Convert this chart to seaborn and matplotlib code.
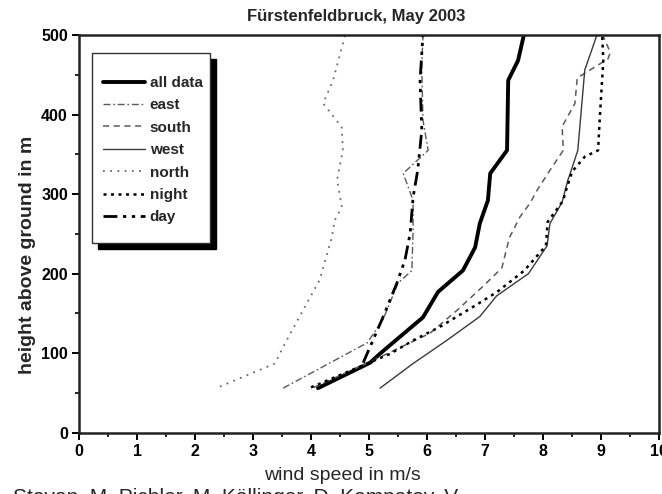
import matplotlib
matplotlib.use("Agg")
import matplotlib.pyplot as plt
import seaborn as sns
import pandas as pd
from matplotlib.patches import Rectangle
from matplotlib.lines import Line2D
from matplotlib.ticker import MultipleLocator

# ---- data ----
all_h = [56, 88, 100, 145, 177, 204, 233, 263, 292, 326, 355, 443, 468, 500]
all_v = [4.12, 5.02, 5.2, 5.93, 6.19, 6.62, 6.83, 6.91, 7.05, 7.09, 7.38, 7.40, 7.57, 7.67]

east_h = [56, 113, 142, 188, 204, 255, 292, 326, 355, 393, 460, 500]
east_v = [3.52, 4.97, 5.24, 5.5, 5.74, 5.76, 5.76, 5.59, 6.02, 5.93, 5.91, 5.93]

south_h = [57, 95, 125, 154, 183, 207, 245, 271, 289, 305, 330, 355, 385, 414, 446, 470, 478, 500]
south_v = [4.05, 5.19, 6.05, 6.52, 6.95, 7.29, 7.42, 7.6, 7.78, 7.9, 8.12, 8.35, 8.33, 8.55, 8.59, 9.12, 9.16, 9.03]

west_h = [56, 87, 116, 146, 172, 200, 235, 263, 290, 318, 326, 355, 456, 500]
west_v = [5.19, 5.76, 6.34, 6.91, 7.2, 7.75, 8.07, 8.12, 8.33, 8.43, 8.47, 8.6, 8.72, 8.93]

north_h = [58, 87, 108, 163, 192, 246, 267, 284, 318, 355, 384, 414, 443, 500]
north_v = [2.43, 3.38, 3.52, 3.93, 4.15, 4.36, 4.41, 4.53, 4.45, 4.55, 4.53, 4.21, 4.38, 4.59]

night_h = [57, 99, 116, 133, 158, 177, 204, 235, 265, 292, 301, 328, 347, 355, 397, 468, 500]
night_v = [4.0, 5.36, 5.76, 6.22, 6.79, 7.21, 7.68, 8.05, 8.08, 8.35, 8.38, 8.5, 8.72, 8.95, 8.98, 9.04, 9.02]

day_h = [88, 145, 188, 217, 251, 296, 330, 380, 443, 500]
day_v = [4.9, 5.24, 5.48, 5.62, 5.71, 5.76, 5.84, 5.91, 5.88, 5.93]

series_names = ["all data", "east", "south", "west", "north", "night", "day"]
series_data = {
    "all data": (all_v, all_h),
    "east": (east_v, east_h),
    "south": (south_v, south_h),
    "west": (west_v, west_h),
    "north": (north_v, north_h),
    "night": (night_v, night_h),
    "day": (day_v, day_h),
}

x_ticks = [0, 1, 2, 3, 4, 5, 6, 7, 8, 9, 10]
y_ticks = [0, 100, 200, 300, 400, 500]

title_text = "Fürstenfeldbruck, May 2003"
x_label = "wind speed in m/s"
y_label = "height above ground in m"
footer_text = "Stoyan, M. Pichler, M. Köllinger, D. Kompatov, V"

# ---- styles ----
styles = {
    "all data": dict(color="black", lw=2.8, ls="-"),
    "east": dict(color="#5a5a5a", lw=1.0, ls=(0, (5, 2, 1.2, 2))),
    "south": dict(color="#5a5a5a", lw=1.1, ls=(0, (4, 3))),
    "west": dict(color="#3a3a3a", lw=1.0, ls="-"),
    "north": dict(color="#6a6a6a", lw=1.3, ls=(0, (1, 3))),
    "night": dict(color="black", lw=1.8, ls=(0, (1.2, 1.8))),
    "day": dict(color="black", lw=2.0, ls=(0, (5, 2, 1.2, 2, 1.2, 2))),
}

sns.set_theme(style="ticks")
plt.rcParams["font.family"] = ["Liberation Sans", "DejaVu Sans"]

fig = plt.figure(figsize=(6.62, 4.94), dpi=100)
W, H = 662, 494
ax_l, ax_r, ax_t, ax_b = 79, 659, 35, 432.7
ax = fig.add_axes([ax_l / W, 1 - ax_b / H, (ax_r - ax_l) / W, (ax_b - ax_t) / H])

for name in series_names:
    v, h = series_data[name]
    df = pd.DataFrame({"speed": v, "height": h})
    st = styles[name]
    sns.lineplot(data=df, x="speed", y="height", sort=False, estimator=None,
                 ax=ax, color=st["color"], lw=st["lw"], linestyle=st["ls"], legend=False)

ax.set_xlim(0, 10)
ax.set_ylim(0, 500)
ax.set_xticks(x_ticks)
ax.set_yticks(y_ticks)
ax.xaxis.set_minor_locator(MultipleLocator(0.5))
ax.yaxis.set_minor_locator(MultipleLocator(50))
ax.tick_params(which="major", direction="out", length=5, width=1.4, colors="black",
               labelsize=11.5, pad=3)
ax.tick_params(which="minor", direction="out", length=3, width=1.2, colors="black")
for lab in ax.get_xticklabels() + ax.get_yticklabels():
    lab.set_fontweight("bold")
for sp in ax.spines.values():
    sp.set_visible(True)
    sp.set_linewidth(1.8)
    sp.set_color("#222222")

ax.set_xlabel(x_label, fontsize=14)
ax.set_ylabel(y_label, fontsize=14, fontweight="bold")
ax.xaxis.set_label_coords((342 - ax_l) / (ax_r - ax_l), (ax_b - 467) / (ax_b - ax_t))
ax.yaxis.set_label_coords((36 - ax_l) / (ax_r - ax_l), (ax_b - 255) / (ax_b - ax_t))

fig.text(356 / W, 1 - 17 / H, title_text, ha="center", va="center",
         fontsize=12, fontweight="bold")

# legend box with shadow (axes coordinates)
def ax_xy(px, py):
    return (px - ax_l) / (ax_r - ax_l), (ax_b - py) / (ax_b - ax_t)

bx0, by0 = ax_xy(92, 243)
bx1, by1 = ax_xy(210, 53)
sx0, sy0 = ax_xy(98, 249)
ax.add_patch(Rectangle((sx0, sy0), bx1 - bx0, by1 - by0, transform=ax.transAxes,
                       facecolor="black", edgecolor="black", zorder=5))
ax.add_patch(Rectangle((bx0, by0), bx1 - bx0, by1 - by0, transform=ax.transAxes,
                       facecolor="white", edgecolor="#333333", lw=1.0, zorder=6))

handles = [Line2D([0], [0], color=styles[n]["color"], lw=styles[n]["lw"],
                  linestyle=styles[n]["ls"]) for n in series_names]
lx, ly = ax_xy(103, 76)
leg = ax.legend(handles, series_names, loc="upper left", bbox_to_anchor=(lx, ly),
                frameon=False, handlelength=2.75, handletextpad=0.3,
                labelspacing=0.55, borderpad=0, borderaxespad=0,
                prop={"weight": "bold", "size": 11})
leg.set_zorder(7)

fig.text(13 / W, 1 - 488 / H, footer_text, ha="left", va="top", fontsize=15)

fig.savefig("out.png", dpi=100)
